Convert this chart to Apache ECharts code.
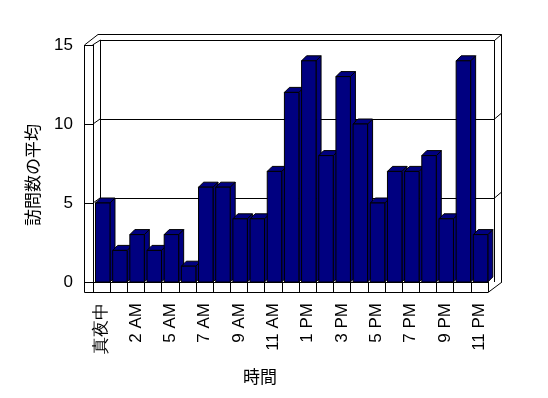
<!DOCTYPE html>
<html>
<head>
<meta charset="utf-8">
<script src="https://cdn.jsdelivr.net/npm/echarts@6/dist/echarts.min.js"></script>
<style>
html, body { margin: 0; background: #fff; }
#chart { width: 548px; height: 398px; }
</style>
</head>
<body>
<div id="chart"></div>
<script>
var hours = ['真夜中', '1 AM', '2 AM', '3 AM', '5 AM', '6 AM', '7 AM', '8 AM', '9 AM', '10 AM', '11 AM', '正午',
    '1 PM', '2 PM', '3 PM', '4 PM', '5 PM', '6 PM', '7 PM', '8 PM', '9 PM', '10 PM', '11 PM'];
var visits = [5, 2, 3, 2, 3, 1, 6, 6, 4, 4, 7, 12, 14, 8, 13, 10, 5, 7, 7, 8, 4, 14, 3];
var yTicks = [0, 5, 10, 15];

var myChart = echarts.init(document.getElementById('chart'));
var NAVY = '#000080';
var DEPTH = 5;
var txt = { color: '#000', fontFamily: 'Liberation Sans, Arial, sans-serif', fontSize: 17 };

function line(pts) {
    return { type: 'polyline', shape: { points: pts }, style: { stroke: '#000', lineWidth: 1, fill: null }, silent: true };
}

var option = {
    animation: false,
    backgroundColor: '#fff',
    grid: [
        // front plane (bars, ticks, labels)
        { left: 93, right: 60, top: 45, bottom: 116, outerBoundsMode: 'none' },
        // back wall, for the grid lines
        { left: 100, right: 54, top: 40, bottom: 200, outerBoundsMode: 'none' }
    ],
    xAxis: [{
        type: 'category',
        gridIndex: 0,
        data: hours,
        axisLine: { lineStyle: { color: '#000', width: 1 } },
        axisTick: { show: true, interval: 0, length: 10, lineStyle: { color: '#000' } },
        axisLabel: { interval: 1, rotate: 90, margin: 21, color: '#000', fontFamily: txt.fontFamily, fontSize: 17 },
        splitLine: { show: false }
    }, {
        type: 'category',
        gridIndex: 1,
        data: hours,
        show: false
    }],
    yAxis: [{
        type: 'value',
        gridIndex: 0,
        min: yTicks[0],
        max: yTicks[yTicks.length - 1],
        interval: 5,
        axisLine: { show: true, lineStyle: { color: '#000', width: 1 } },
        axisTick: { show: true, length: 8, lineStyle: { color: '#000' } },
        axisLabel: { margin: 20, color: '#000', fontFamily: txt.fontFamily, fontSize: 17 },
        splitLine: { show: false }
    }, {
        type: 'value',
        gridIndex: 1,
        min: 5,
        max: 15,
        interval: 5,
        axisLine: { show: false },
        axisTick: { show: false },
        axisLabel: { show: false },
        splitLine: { show: true, lineStyle: { color: '#000', width: 1 } }
    }],
    graphic: [
        line([[84.5, 45], [84.5, 292.5], [488, 292.5], [502, 282]]),
        line([[501.5, 282], [501.5, 34.5], [98, 34.5], [84.5, 45]]),
        line([[92.5, 45], [100.5, 40]]),
        line([[100.5, 40], [100.5, 282]]),
        line([[494.5, 40], [494.5, 282]]),
        line([[494.5, 40.5], [501.5, 34.5]]),
        line([[93, 124], [100, 119]]),
        line([[93, 203], [100, 198]]),
        line([[494.5, 119], [501, 113.5]]),
        line([[494.5, 198], [501, 192.5]]),
        {
            type: 'text', x: 33, y: 175, rotation: Math.PI / 2,
            style: { text: '訪問数の平均', fill: '#000', font: '17px "Noto Sans CJK JP"', align: 'center', verticalAlign: 'middle' }
        },
        {
            type: 'text', x: 260, y: 377,
            style: { text: '時間', fill: '#000', font: '17px "Noto Sans CJK JP"', align: 'center', verticalAlign: 'middle' }
        }
    ],
    series: [{
        type: 'custom',
        xAxisIndex: 0,
        yAxisIndex: 0,
        data: visits.map(function (v, i) { return [i, v]; }),
        encode: { x: 0, y: 1 },
        renderItem: function (params, api) {
            var i = api.value(0), v = api.value(1);
            var top = api.coord([i, v]);
            var base = api.coord([i, 0]);
            var w = api.size([1, 0])[0];
            var x0 = top[0] - w / 2 + 2.5;
            var x1 = top[0] + w / 2 - 0.2;
            var y0 = top[1], yb = base[1];
            var d = DEPTH;
            var st = { fill: NAVY, stroke: '#000', lineWidth: 1 };
            return {
                type: 'group',
                children: [
                    { type: 'polygon', shape: { points: [[x1, yb], [x1 + d, yb - d], [x1 + d, y0 - d], [x1, y0]] }, style: st },
                    { type: 'polygon', shape: { points: [[x0, y0], [x0 + d, y0 - d], [x1 + d, y0 - d], [x1, y0]] }, style: st },
                    { type: 'rect', shape: { x: x0, y: y0, width: x1 - x0, height: yb - y0 }, style: st }
                ]
            };
        }
    }]
};
myChart.setOption(option);
</script>
</body>
</html>
